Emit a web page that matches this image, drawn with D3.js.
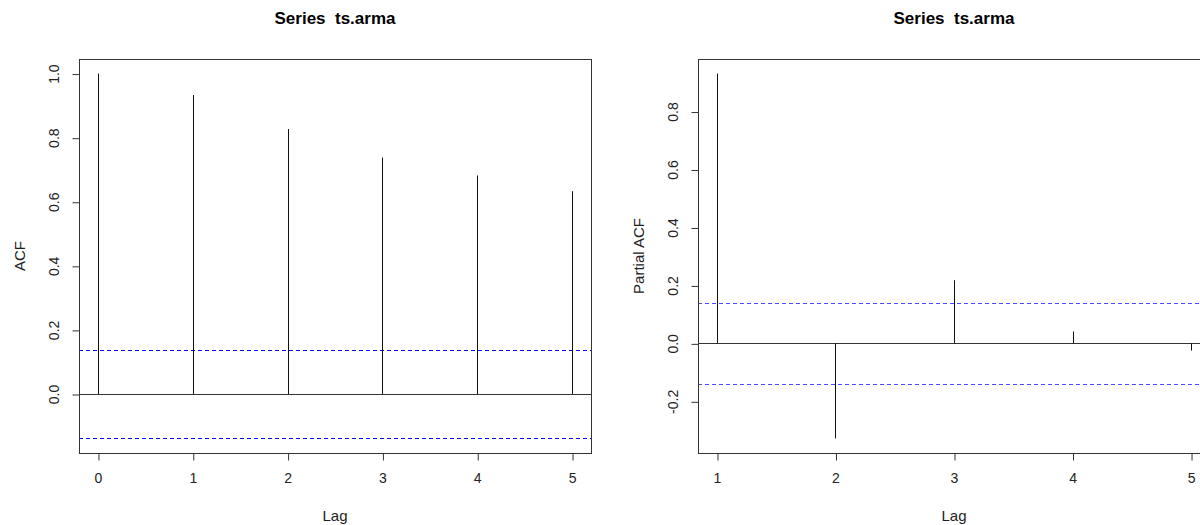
<!DOCTYPE html>
<html>
<head>
  <meta charset="UTF-8">
  <style>
    body { margin: 0; background: #fff; }
    svg { display: block; font-family: "Liberation Sans", Arial, sans-serif; }
    .tick line { stroke: #333; }
    .tick text { fill: #222; font-size: 14px; }
  </style>
</head>
<body>
  <script src="https://d3js.org/d3.v7.min.js"></script>
  <script>
    // values
    var acfLags = [0, 1, 2, 3, 4, 5];
    var acfValues = [1.0, 0.933, 0.827, 0.738, 0.682, 0.633];
    var pacfLags = [1, 2, 3, 4, 5];
    var pacfValues = [0.931, -0.328, 0.218, 0.041, -0.025];
    var ciBound = 0.1386;
    var acfTicks = [0, 0.2, 0.4, 0.6, 0.8, 1.0];
    var pacfTicks = [-0.2, 0, 0.2, 0.4, 0.6, 0.8];
    var titleText = "Series  ts.arma";

    var svg = d3.select("body").append("svg")
      .attr("width", 1200)
      .attr("height", 525);

    // R style 4% padding on both ends
    function padded(lo, hi) {
      var s = hi - lo;
      return [lo - 0.04 * s, hi + 0.04 * s];
    }

    function panel(opt) {
      var g = svg.append("g");
      var x = d3.scaleLinear()
        .domain(padded(d3.min(opt.lags), d3.max(opt.lags)))
        .range([opt.left, opt.right]);
      var lo = Math.min(d3.min(opt.values), -ciBound);
      var hi = Math.max(d3.max(opt.values), ciBound);
      var y = d3.scaleLinear()
        .domain(padded(lo, hi))
        .range([opt.bottom, opt.top]);

      // zero line
      g.append("line")
        .attr("x1", opt.left).attr("x2", opt.right)
        .attr("y1", Math.round(y(0)) + 0.5).attr("y2", Math.round(y(0)) + 0.5)
        .style("stroke", "#333");

      // confidence band
      g.selectAll(".ci")
        .data([ciBound, -ciBound])
        .enter().append("line")
        .attr("class", "ci")
        .attr("x1", opt.left).attr("x2", opt.right)
        .attr("y1", function(c) { return Math.round(y(c)) + 0.5; })
        .attr("y2", function(c) { return Math.round(y(c)) + 0.5; })
        .style("stroke", opt.ciColor)
        .style("stroke-dasharray", "4,3");

      // spikes
      g.selectAll(".spike")
        .data(opt.lags)
        .enter().append("line")
        .attr("class", "spike")
        .attr("x1", function(d) { return Math.round(x(d)) + 0.5; })
        .attr("x2", function(d) { return Math.round(x(d)) + 0.5; })
        .attr("y1", y(0))
        .attr("y2", function(d, i) { return y(opt.values[i]); })
        .style("stroke", "#111");

      // box
      g.append("rect")
        .attr("x", opt.left + 0.5).attr("y", opt.top + 0.5)
        .attr("width", opt.right - opt.left).attr("height", opt.bottom - opt.top)
        .attr("fill", "none").style("stroke", "#333");

      var xa = g.append("g")
        .attr("transform", "translate(0," + (opt.bottom + 0.5) + ")")
        .call(d3.axisBottom(x).tickValues(opt.lags).tickFormat(d3.format("d")).tickSize(7).tickPadding(13));
      xa.select(".domain").remove();
      xa.selectAll(".tick line").attr("transform", "translate(0.5,0)");

      var ya = g.append("g")
        .attr("transform", "translate(" + (opt.left + 0.5) + ",0)")
        .call(d3.axisLeft(y).tickValues(opt.ticks).tickFormat(d3.format(".1f")).tickSize(7));
      ya.select(".domain").remove();
      ya.selectAll(".tick line").attr("transform", "translate(0,0.5)");
      ya.selectAll(".tick text")
        .attr("transform", "rotate(-90)")
        .attr("x", 0)
        .attr("y", -26)
        .attr("dy", "0.36em")
        .attr("text-anchor", "middle")
        .text(function(d) { return d3.format(".1f")(d).replace("−", "-"); });

      g.append("text")
        .attr("x", (opt.left + opt.right) / 2)
        .attr("y", 24)
        .attr("text-anchor", "middle")
        .attr("font-weight", "bold")
        .attr("font-size", "17px")
        .attr("fill", "#000")
        .style("white-space", "pre")
        .text(titleText);

      g.append("text")
        .attr("x", (opt.left + opt.right) / 2)
        .attr("y", 521)
        .attr("text-anchor", "middle")
        .attr("font-size", "15px")
        .attr("fill", "#222")
        .text("Lag");

      g.append("text")
        .attr("transform", "translate(" + (opt.left - 54) + "," + ((opt.top + opt.bottom) / 2) + ") rotate(-90)")
        .attr("text-anchor", "middle")
        .attr("font-size", "15px")
        .attr("fill", "#222")
        .text(opt.ylab);
    }

    panel({ lags: acfLags, values: acfValues, ticks: acfTicks, ylab: "ACF", ciColor: "#0000ff",
            left: 79, right: 591, top: 59, bottom: 453 });
    panel({ lags: pacfLags, values: pacfValues, ticks: pacfTicks, ylab: "Partial ACF", ciColor: "#4a4aff",
            left: 698, right: 1210, top: 59, bottom: 453 });
  </script>
</body>
</html>
